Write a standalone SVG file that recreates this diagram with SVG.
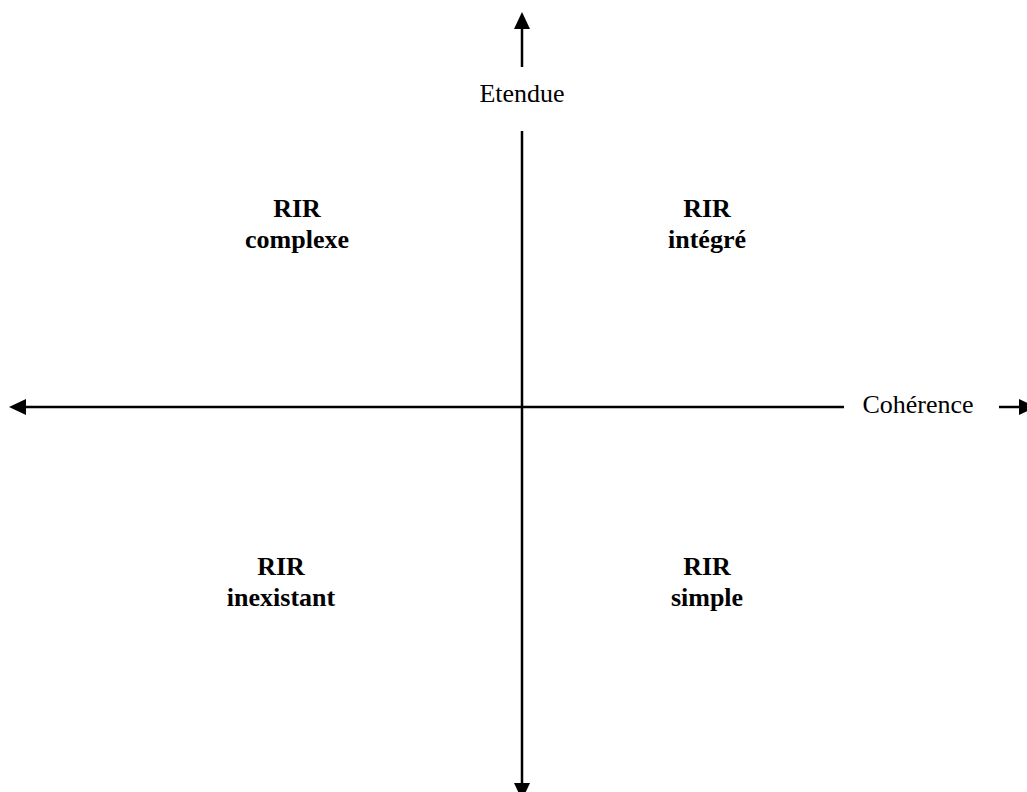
<svg xmlns="http://www.w3.org/2000/svg" width="1027" height="792" viewBox="0 0 1027 792">
<style>
.ax{stroke:#000;stroke-width:2.5;fill:none}
.lbl{font-family:"Liberation Serif","Times New Roman",serif;font-size:26px;fill:#000;text-anchor:middle}
.q{font-family:"Liberation Serif","Times New Roman",serif;font-size:26px;font-weight:bold;fill:#000;text-anchor:middle}
</style>
<rect width="1027" height="792" fill="#fff"/>
<g id="connectors">
<line class="ax" x1="522" y1="28" x2="522" y2="67"/>
<polygon points="522,12 514,29 530,29" fill="#000"/>
<line class="ax" x1="522" y1="131" x2="522" y2="785"/>
<polygon points="522,800 514,783 530,783" fill="#000"/>
<line class="ax" x1="25" y1="407" x2="844" y2="407"/>
<polygon points="9,407 26,399 26,415" fill="#000"/>
<line class="ax" x1="999" y1="407" x2="1021" y2="407"/>
<polygon points="1036,407 1019,399 1019,415" fill="#000"/>
</g>
<g id="etendue"><text class="lbl" x="522" y="102">Etendue</text></g>
<g id="coherence"><text class="lbl" x="918" y="413">Cohérence</text></g>
<g id="complexe"><text class="q" x="297" y="217">RIR</text><text class="q" x="297" y="248">complexe</text></g>
<g id="integre"><text class="q" x="707" y="217">RIR</text><text class="q" x="707" y="248">intégré</text></g>
<g id="inexistant"><text class="q" x="281" y="575">RIR</text><text class="q" x="281" y="606">inexistant</text></g>
<g id="simple"><text class="q" x="707" y="575">RIR</text><text class="q" x="707" y="606">simple</text></g>
</svg>
